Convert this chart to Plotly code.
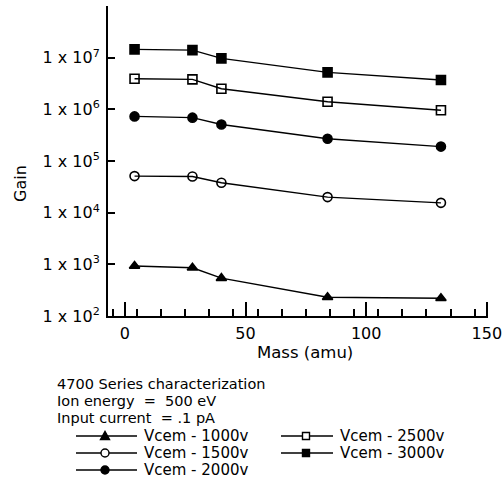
import plotly.graph_objects as go

# Gain vs. ion mass for the 4700 series at several CEM voltages
mass = [4, 28, 40, 84, 131]

gain_1000v = [9.3e2, 8.6e2, 5.4e2, 2.3e2, 2.2e2]
gain_1500v = [5.1e4, 5.0e4, 3.8e4, 2.0e4, 1.55e4]
gain_2000v = [7.3e5, 6.9e5, 5.1e5, 2.7e5, 1.9e5]
gain_2500v = [3.9e6, 3.8e6, 2.5e6, 1.4e6, 9.6e5]
gain_3000v = [1.45e7, 1.4e7, 9.7e6, 5.2e6, 3.7e6]

series_names = ["Vcem - 1000v", "Vcem - 1500v", "Vcem - 2000v",
                "Vcem - 2500v", "Vcem - 3000v"]
series_values = [gain_1000v, gain_1500v, gain_2000v, gain_2500v, gain_3000v]
series_symbols = ["triangle-up", "circle-open", "circle", "square-open", "square"]

y_tick_vals = [1e2, 1e3, 1e4, 1e5, 1e6, 1e7]
y_tick_text = ["1 x 10<sup>2</sup>", "1 x 10<sup>3</sup>", "1 x 10<sup>4</sup>",
               "1 x 10<sup>5</sup>", "1 x 10<sup>6</sup>", "1 x 10<sup>7</sup>"]

x_label_vals = [0, 50, 100, 150]
x_long_tick_vals = list(range(0, 151, 10))

header_lines = ["4700 Series characterization",
                "Ion energy  =  500 eV",
                "Input current  = .1 pA"]

FONT = "DejaVu Sans, Verdana, sans-serif"
W, H = 504, 489
ML, MR, MT, MB = 108, 16, 6, 173
PW, PH = W - ML - MR, H - MT - MB
X_RANGE = [-7, 150.5]


def xp(px):
    """Page pixel column -> paper x."""
    return (px - ML) / PW


def yp(py):
    """Page pixel row -> paper y."""
    return (H - MB - py) / PH


fig = go.Figure()

for name, vals, sym in zip(series_names, series_values, series_symbols):
    fig.add_trace(go.Scatter(
        x=mass, y=vals, name=name, mode="lines+markers",
        line=dict(color="black", width=1.4),
        marker=dict(symbol=sym, size=9, color="black",
                    line=dict(color="black", width=1.6)),
        showlegend=False,
    ))

fig.update_layout(
    width=W, height=H,
    margin=dict(l=ML, r=MR, t=MT, b=MB, autoexpand=False),
    paper_bgcolor="white", plot_bgcolor="white",
    font=dict(family=FONT, color="black", size=15),
    showlegend=False,
    xaxis=dict(
        range=X_RANGE, showgrid=False, zeroline=False,
        showline=True, linecolor="black", linewidth=2,
        tickmode="array", tickvals=x_label_vals,
        ticks="inside", ticklen=14, tickwidth=1.5, tickcolor="black",
        tickfont=dict(family=FONT, size=16), ticklabelstandoff=2,
        minor=dict(tickmode="linear", tick0=5, dtick=10, ticks="inside",
                   ticklen=7, tickwidth=1.5, tickcolor="black", showgrid=False),
    ),
    # unlabeled long ticks every 10 amu along the same baseline
    xaxis2=dict(
        overlaying="x", anchor="y", side="bottom", range=X_RANGE,
        showgrid=False, zeroline=False, showline=False,
        tickmode="array", tickvals=x_long_tick_vals, showticklabels=False,
        ticks="inside", ticklen=14, tickwidth=1.5, tickcolor="black",
    ),
    yaxis=dict(
        type="log", range=[2, 8], showgrid=False, zeroline=False,
        showline=True, linecolor="black", linewidth=2,
        tickmode="array", tickvals=y_tick_vals, ticktext=y_tick_text,
        ticks="inside", ticklen=7, tickwidth=1.5, tickcolor="black",
        tickfont=dict(family=FONT, size=16), ticklabelstandoff=3,
        minor=dict(tickmode="array", tickvals=[1e8], ticks="inside",
                   ticklen=7, tickwidth=1.5, tickcolor="black", showgrid=False),
    ),
)

# axis titles
fig.add_annotation(text="Mass (amu)", xref="paper", yref="paper",
                   x=xp(305), y=yp(352), showarrow=False,
                   xanchor="center", yanchor="middle",
                   font=dict(family=FONT, size=16.5))
fig.add_annotation(text="Gain", xref="paper", yref="paper",
                   x=xp(20), y=yp(184), textangle=-90, showarrow=False,
                   xanchor="center", yanchor="middle",
                   font=dict(family=FONT, size=16))

# measurement conditions
for i, line in enumerate(header_lines):
    fig.add_annotation(text=line, xref="paper", yref="paper",
                       x=xp(56), y=yp(384 + 17 * i), showarrow=False,
                       xanchor="left", yanchor="middle", borderpad=0,
                       font=dict(family=FONT, size=14.5))

# key: two columns, rows 17 px apart
key_slots = {"Vcem - 1000v": (0, 0), "Vcem - 1500v": (0, 1),
             "Vcem - 2000v": (0, 2), "Vcem - 2500v": (1, 0),
             "Vcem - 3000v": (1, 1)}
col_geom = [(76, 137, 105, 143), (281, 333, 306, 339)]  # line x0, x1, marker x, text x

for name, sym in zip(series_names, series_symbols):
    col, row = key_slots[name]
    lx0, lx1, mx, tx = col_geom[col]
    ry = 436 + 17 * row
    fig.add_shape(type="line", xref="paper", yref="paper",
                  x0=xp(lx0), x1=xp(lx1), y0=yp(ry), y1=yp(ry),
                  line=dict(color="black", width=1.4))
    filled = not sym.endswith("open")
    fill = "black" if filled else "white"
    common = dict(xref="paper", yref="paper", xsizemode="pixel",
                  ysizemode="pixel", xanchor=xp(mx), yanchor=yp(ry),
                  line=dict(color="black", width=1.4), fillcolor=fill)
    if sym.startswith("circle"):
        fig.add_shape(type="circle", x0=-4, x1=4, y0=-4, y1=4, **common)
    elif sym.startswith("square"):
        fig.add_shape(type="rect", x0=-3.5, x1=3.5, y0=-3.5, y1=3.5, **common)
    else:
        fig.add_shape(type="path", path="M -4.5 -3.5 L 4.5 -3.5 L 0 4.5 Z", **common)
    fig.add_annotation(text=name, xref="paper", yref="paper",
                       x=xp(tx), y=yp(ry), showarrow=False,
                       xanchor="left", yanchor="middle", borderpad=0,
                       font=dict(family=FONT, size=15))

fig.write_html("out.html")
